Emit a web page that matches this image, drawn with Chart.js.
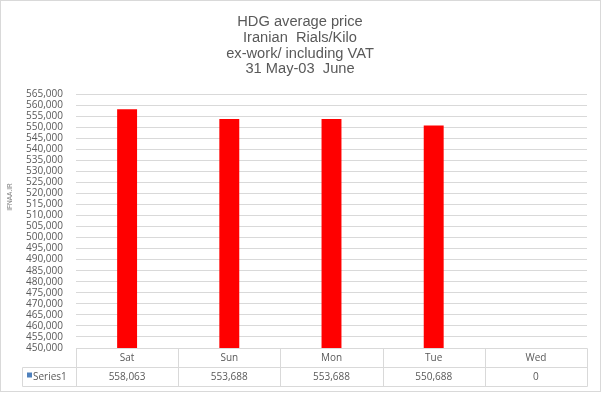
<!DOCTYPE html>
<html>
<head>
<meta charset="utf-8">
<script src="https://cdn.jsdelivr.net/npm/chart.js@4"></script>
<style>
  html, body { margin: 0; padding: 0; background: #fff; }
  canvas { display: block; }
</style>
</head>
<body>
<canvas id="hdgChart" width="602" height="393"></canvas>
<script>
// chart data
const titleLines = ['HDG average price', 'Iranian  Rials/Kilo', 'ex-work/ including VAT', '31 May-03  June'];
const days = ['Sat', 'Sun', 'Mon', 'Tue', 'Wed'];
const prices = [558063, 553688, 553688, 550688, 0];
const seriesName = 'Series1';
const yMin = 450000;
const yMax = 565000;
const yStep = 5000;

const gridGray = '#d9d9d9';
const textGray = '#595959';
const smallFont = '10px "Open Sans"';

// title, watermark, frame and the data table under the plot
const extras = {
  id: 'extras',
  afterDraw(chart) {
    const ctx = chart.ctx;
    const area = chart.chartArea;
    const x = chart.scales.x;
    ctx.save();

    // outer frame
    ctx.strokeStyle = gridGray;
    ctx.lineWidth = 1;
    ctx.strokeRect(0.5, 0.5, 600, 391);

    // title
    ctx.fillStyle = textGray;
    ctx.font = '14.67px "Liberation Sans"';
    ctx.textAlign = 'center';
    ctx.textBaseline = 'alphabetic';
    titleLines.forEach(function(t, i) {
      ctx.fillText(t, 300, 25.7 + i * 15.9);
    });

    // watermark
    ctx.save();
    ctx.translate(10, 197);
    ctx.rotate(-Math.PI / 2);
    ctx.font = '6.5px "Liberation Sans"';
    ctx.fillStyle = '#7f7f7f';
    ctx.textBaseline = 'middle';
    ctx.textAlign = 'center';
    ctx.fillText('IFNAA.IR', 0, 0);
    ctx.restore();

    // data table
    const top = Math.round(area.bottom) + 0.5;
    const mid = top + 19;
    const bot = top + 38;
    const tableLeft = 22.5;
    const catW = x.width / days.length;
    const left = Math.round(area.left) + 0.5;
    const right = Math.round(area.right) + 0.5;

    ctx.strokeStyle = gridGray;
    ctx.beginPath();
    ctx.moveTo(left, top); ctx.lineTo(right, top);
    ctx.moveTo(tableLeft, mid); ctx.lineTo(right, mid);
    ctx.moveTo(tableLeft, bot); ctx.lineTo(right, bot);
    ctx.moveTo(tableLeft, mid); ctx.lineTo(tableLeft, bot);
    for (let i = 0; i <= days.length; i++) {
      const bx = Math.round(area.left + i * catW) + 0.5;
      ctx.moveTo(bx, top); ctx.lineTo(bx, bot);
    }
    ctx.stroke();

    ctx.font = smallFont;
    ctx.fillStyle = textGray;
    ctx.textAlign = 'center';
    ctx.textBaseline = 'middle';
    days.forEach(function(d, i) {
      const cx = x.getPixelForValue(i);
      ctx.fillText(d, cx, top + 9.5);
      ctx.fillText(prices[i].toLocaleString('en-US'), cx, mid + 9.5);
    });

    // legend key + series name
    ctx.fillStyle = '#4f81bd';
    ctx.fillRect(27, mid + 5, 5, 5);
    ctx.fillStyle = textGray;
    ctx.textAlign = 'left';
    ctx.fillText(seriesName, 33, mid + 9.5);

    ctx.restore();
  }
};

new Chart(document.getElementById('hdgChart'), {
  type: 'bar',
  data: {
    labels: days,
    datasets: [{
      label: seriesName,
      data: prices,
      backgroundColor: '#ff0000',
      borderWidth: 0,
      categoryPercentage: 1,
      barPercentage: 0.195
    }]
  },
  options: {
    responsive: false,
    animation: false,
    devicePixelRatio: 1,
    layout: { padding: { top: 94, right: 15, bottom: 45, left: 0 } },
    plugins: {
      legend: { display: false },
      title: { display: false },
      tooltip: { enabled: false }
    },
    scales: {
      x: { display: false },
      y: {
        min: yMin,
        max: yMax,
        afterFit: function(s) { s.width = 76; },
        border: { display: false },
        grid: { color: gridGray, drawTicks: false },
        ticks: {
          stepSize: yStep,
          autoSkip: false,
          padding: 13,
          color: textGray,
          font: { family: 'Open Sans', size: 10 },
          callback: function(v) { return v.toLocaleString('en-US'); }
        }
      }
    }
  },
  plugins: [extras]
});
</script>
</body>
</html>
